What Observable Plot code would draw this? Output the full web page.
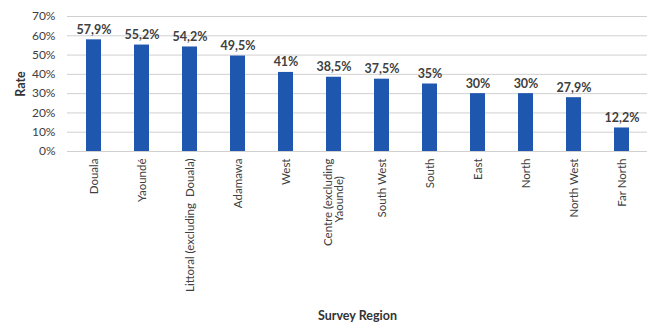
<!DOCTYPE html>
<html>
<head>
<meta charset="utf-8">
<script src="https://cdn.jsdelivr.net/npm/d3@7"></script>
<script src="https://cdn.jsdelivr.net/npm/@observablehq/plot@0.6"></script>
<style>
  html, body { margin: 0; padding: 0; background: #fff; }
  #chart svg { display: block; }
</style>
</head>
<body>
<div id="chart"></div>
<script>
const regions = ["Douala", "Yaoundé", "Littoral (excluding  Douala)", "Adamawa", "West", "Centre (excluding Yaounde)", "South West", "South", "East", "North", "North West", "Far North"];
const tickLabels = ["Douala", "Yaoundé", "Littoral (excluding  Douala)", "Adamawa", "West", "Centre (excluding\nYaounde)\u00A0\u00A0\u00A0\u00A0\u00A0\u00A0", "South West", "South", "East", "North", "North West", "Far North"];
const rates = [57.9, 55.2, 54.2, 49.5, 41, 38.5, 37.5, 35, 30, 30, 27.9, 12.2];
const valueLabels = ["57,9%", "55,2%", "54,2%", "49,5%", "41%", "38,5%", "37,5%", "35%", "30%", "30%", "27,9%", "12,2%"];
const yTicks = [0, 10, 20, 30, 40, 50, 60, 70];

const data = regions.map((r, i) => ({region: r, rate: rates[i], label: valueLabels[i], tick: tickLabels[i]}));
const tickMap = new Map(data.map(d => [d.region, d.tick]));

const chart = Plot.plot({
  width: 652,
  height: 324,
  marginLeft: 67,
  marginRight: 5,
  marginTop: 16,
  marginBottom: 173,
  style: {fontFamily: "Lato, 'Open Sans', sans-serif", fontSize: "11px", color: "#404040", background: "#fff"},
  x: {domain: regions, paddingInner: 0.69, paddingOuter: 0.345},
  y: {domain: [0, 70], ticks: yTicks},
  marks: [
    Plot.gridY(yTicks, {stroke: "#d0d0d0", strokeOpacity: 1, strokeWidth: 1}),
    Plot.barY(data, {x: "region", y: "rate", fill: "#1f56ae"}),
    Plot.text(data, {x: "region", y: "rate", text: "label", lineAnchor: "bottom", dy: -6, fontWeight: "bold", fontSize: 12.5, fill: "#404040"}),
    Plot.axisY({ticks: yTicks, tickFormat: d => d + "%", tickSize: 0, tickPadding: 12, fontSize: 12, label: "Rate", labelAnchor: "center", labelArrow: "none", labelOffset: 51, fontWeight: "normal"}),
    Plot.axisX({tickSize: 0, tickRotate: -90, tickPadding: 7, tickFormat: d => tickMap.get(d), fontSize: 11.5, label: null}),
    Plot.text(["Survey Region"], {frameAnchor: "bottom", dy: 164, lineAnchor: "middle", fontWeight: "bold", fontSize: 12.5, fill: "#333"}),
    Plot.ruleY([0], {stroke: "#d0d0d0"})
  ]
});
document.getElementById("chart").appendChild(chart);
chart.querySelectorAll("[aria-label='y-axis label'] text").forEach(t => { t.setAttribute("font-weight", "bold"); t.setAttribute("font-size", "12.5"); t.setAttribute("fill", "#333"); });
</script>
</body>
</html>
